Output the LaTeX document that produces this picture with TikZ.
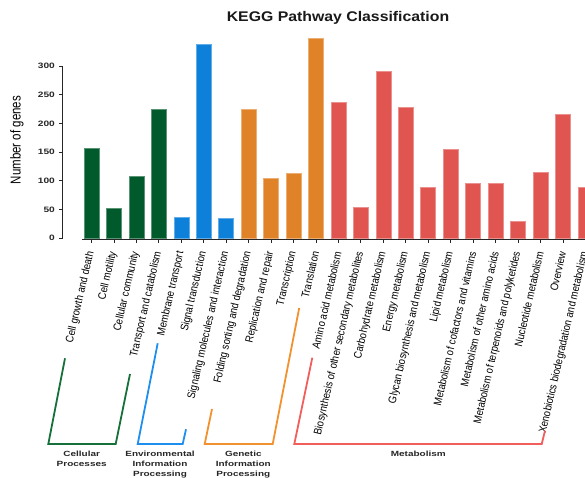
\documentclass[tikz,border=0pt]{standalone}
\usepackage{fontspec}
\setmainfont{Liberation Sans}
\definecolor{cgr}{HTML}{005A2B}
\definecolor{cbl}{HTML}{0D80DA}
\definecolor{cor}{HTML}{E08228}
\definecolor{cre}{HTML}{E0554F}
\definecolor{bgr}{HTML}{15703A}
\definecolor{bbl}{HTML}{1E8FEE}
\definecolor{bor}{HTML}{F2922E}
\definecolor{bre}{HTML}{F25E5C}
\tikzset{
  axisline/.style={line width=0.9pt, black!85},
  xlab/.style={font=\fontsize{9.6}{10}\selectfont, inner sep=0pt, anchor=east, rotate=77},
  ticklab/.style={font=\bfseries\fontsize{7.8}{8}\selectfont, inner sep=0pt, anchor=east, text=black!85},
  catlab/.style={font=\bfseries\fontsize{7.5}{9.6}\selectfont, inner sep=0pt, anchor=north, align=center, text=black!85},
  bracket/.style={line width=1.8pt, line join=miter},
  barbox/.style={line width=0.6pt}
}
\begin{document}
\begin{tikzpicture}[x=1pt,y=-1pt]
\useasboundingbox (0,0) rectangle (585,478);
% title
\node[font=\bfseries\fontsize{14}{14}\selectfont, inner sep=0pt, text=black!90] (title) at (338,18) {\scalebox{1.13}[1]{KEGG Pathway Classification}};
% y axis
\draw[axisline] (62.7,66) -- (62.7,238.3);
\foreach \t in {0,50,100,150,200,250,300}{
  \draw[axisline] (59.3,{238.3-\t*0.5743}) -- (62.7,{238.3-\t*0.5743});
  \node[ticklab] (yt\t) at (55,{238.3-\t*0.5743}) {\scalebox{1.3}[1]{\t}};
}
\node[rotate=90, font=\fontsize{11.5}{12}\selectfont, inner sep=0pt] (ylab) at (17,140) {\scalebox{1}[1.25]{Number of genes}};
% x axis
\draw[axisline] (82,239.5) -- (585,239.5);
% bars and labels
\foreach \v/\c/\l [count=\i from 0] in {
 156/cgr/Cell growth and death,
 53/cgr/Cell motility,
 108/cgr/Cellular community,
 224/cgr/Transport and catabolism,
 37/cbl/Membrane transport,
 338/cbl/Signal transduction,
 35/cbl/Signaling molecules and interaction,
 225/cor/Folding sorting and degradation,
 105/cor/Replication and repair,
 114/cor/Transcription,
 349/cor/Translation,
 237/cre/Amino acid metabolism,
 54/cre/Biosynthesis of other secondary metabolites,
 291/cre/Carbohydrate metabolism,
 228/cre/Energy metabolism,
 88/cre/Glycan biosynthesis and metabolism,
 155/cre/Lipid metabolism,
 96/cre/Metabolism of cofactors and vitamins,
 96/cre/Metabolism of other amino acids,
 30/cre/Metabolism of terpenoids and polyketides,
 115/cre/Nucleotide metabolism,
 216/cre/Overview,
 89/cre/Xenobiotics biodegradation and metabolism}{
  \pgfmathsetmacro{\cx}{91.5+22.45*\i}
  \fill[\c, draw=\c!65!white, barbox] ({\cx-7.5},238.3) rectangle ({\cx+7.5},{238.3-\v*0.5743});
  \draw[axisline] (\cx,239.5) -- (\cx,242.5);
  \node[xlab] (lab\i) at ({\cx-0.5},251.5) {\scalebox{1}[1.15]{\l}};
}
% brackets
\draw[bracket, bgr] (65,358.3) -- (48.3,444) -- (115.7,444) -- (130,374);
\draw[bracket, bbl] (157.7,343.3) -- (137.7,444) -- (182.7,444) -- (186,429.3);
\draw[bracket, bor] (212,409) -- (204.7,444) -- (272.7,444) -- (299.2,308);
\draw[bracket, bre] (312.3,357.7) -- (294.3,444) -- (541.7,444) -- (545,430.7);
% category labels
\node[catlab] (cp) at (81.7,450.6) {\scalebox{1.33}[1]{\shortstack{Cellular\\[1.6pt]Processes}}};
\node[catlab] (eip) at (160,450.6) {\scalebox{1.33}[1]{\shortstack{Environmental\\[1.6pt]Information\\[1.6pt]Processing}}};
\node[catlab] (gip) at (243.3,450.6) {\scalebox{1.33}[1]{\shortstack{Genetic\\[1.6pt]Information\\[1.6pt]Processing}}};
\node[catlab] (met) at (418.3,450.6) {\scalebox{1.33}[1]{Metabolism}};
\end{tikzpicture}
\end{document}
